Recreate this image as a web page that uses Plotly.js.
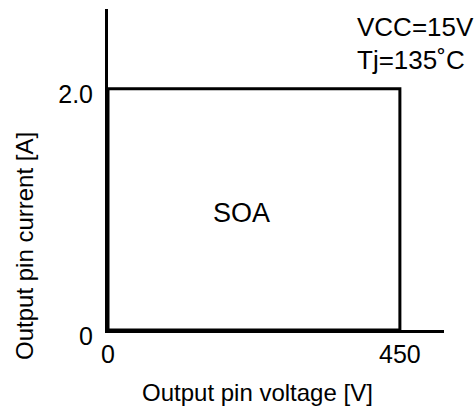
<!DOCTYPE html>
<html>
<head>
<meta charset="utf-8">
<script src="https://cdn.plot.ly/plotly-3.0.1.min.js"></script>
<style>html,body{margin:0;padding:0;background:#fff;}#chart{width:474px;height:407px;}</style>
</head>
<body>
<div id="chart"></div>
<script>
// SOA boundary (Output pin voltage [V], Output pin current [A])
const soaVoltage = [0, 0, 450, 450, 0];
const soaCurrent = [0, 2.0, 2.0, 0, 0];
const xTickVals = [0, 450];
const xTickText = ['0', '450'];
const yTickVals = [0, 2.0];
const yTickText = ['0', '2.0'];
const xTitle = 'Output pin voltage [V]';
const yTitle = 'Output pin current [A]';
const regionLabel = 'SOA';
const conditions = ['VCC=15V', 'Tj=135˚C'];

const FONT = 'Arial, "Liberation Sans", sans-serif';

const trace = {
  x: soaVoltage, y: soaCurrent, type: 'scatter', mode: 'lines',
  line: {color: '#000', width: 3}, cliponaxis: false, hoverinfo: 'skip', showlegend: false
};

const layout = {
  width: 474, height: 407,
  margin: {l: 108, r: 30, t: 9, b: 77},
  paper_bgcolor: '#fff', plot_bgcolor: '#fff',
  font: {family: FONT, color: '#000', size: 25},
  showlegend: false,
  xaxis: {
    range: [0, 518], showgrid: false, zeroline: false,
    showline: true, linecolor: '#000', linewidth: 3,
    tickmode: 'array', tickvals: xTickVals, ticktext: xTickText,
    ticks: '', ticklabelstandoff: 0,
    tickfont: {family: FONT, size: 25, color: '#000'}
  },
  yaxis: {
    range: [0, 2.66], showgrid: false, zeroline: false,
    showline: true, linecolor: '#000', linewidth: 3,
    tickmode: 'array', tickvals: yTickVals, ticktext: yTickText,
    ticks: '', ticklabelstandoff: 7, ticklabelshift: 6,
    tickfont: {family: FONT, size: 25, color: '#000'}
  },
  annotations: [
    {text: regionLabel, x: 206, y: 0.97, xref: 'x', yref: 'y', showarrow: false,
     font: {family: FONT, size: 27, color: '#000'}},
    {text: conditions[0], x: 355, y: 27, xref: 'paper', yref: 'paper', showarrow: false,
     xanchor: 'left', yanchor: 'middle', font: {family: FONT, size: 26, color: '#000'}},
    {text: conditions[1], x: 355, y: 60, xref: 'paper', yref: 'paper', showarrow: false,
     xanchor: 'left', yanchor: 'middle', font: {family: FONT, size: 26, color: '#000'}},
    {text: xTitle, x: 257, y: 392, xref: 'paper', yref: 'paper', showarrow: false,
     xanchor: 'center', yanchor: 'middle', font: {family: FONT, size: 24, color: '#000'}},
    {text: yTitle, x: 24, y: 246, xref: 'paper', yref: 'paper', showarrow: false, textangle: -90,
     xanchor: 'center', yanchor: 'middle', font: {family: FONT, size: 24, color: '#000'}}
  ]
};

// convert pixel positions for paper-referenced annotations
const plotL = layout.margin.l, plotT = layout.margin.t;
const plotW = layout.width - layout.margin.l - layout.margin.r;
const plotH = layout.height - layout.margin.t - layout.margin.b;
layout.annotations.forEach(a => {
  if (a.xref === 'paper') a.x = (a.x - plotL) / plotW;
  if (a.yref === 'paper') a.y = 1 - (a.y - plotT) / plotH;
});

Plotly.newPlot('chart', [trace], layout, {displayModeBar: false, staticPlot: true});
</script>
</body>
</html>
